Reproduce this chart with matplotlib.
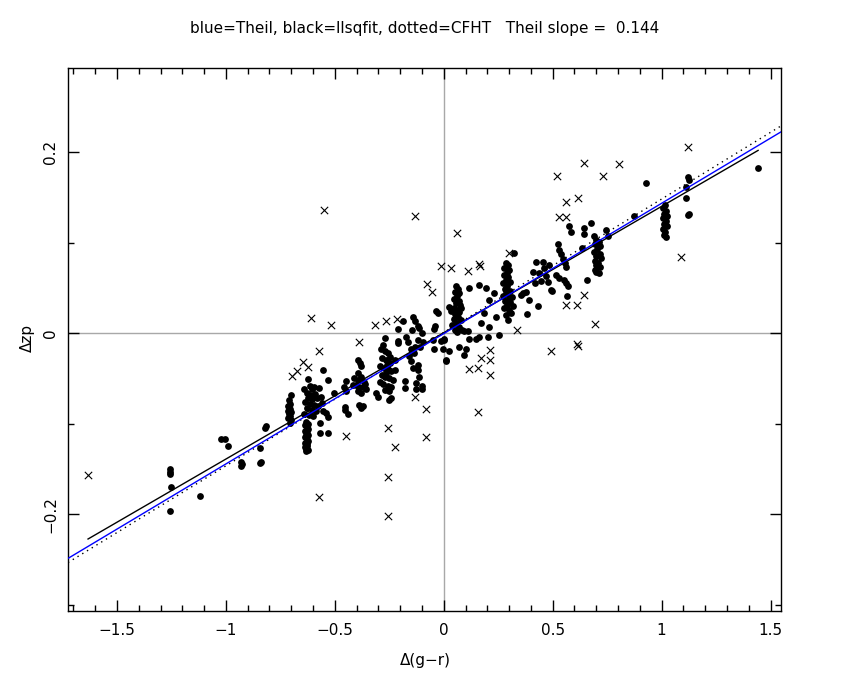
import numpy as np
import matplotlib
matplotlib.use('Agg')
import matplotlib.pyplot as plt
from matplotlib.ticker import MultipleLocator

# fitted lines: (slope, intercept)
THEIL = (0.1440, -0.0005)
LLSQ = (0.1396, 0.0005)
CFHT = (0.1474, 0.0008)
LLSQ_RANGE = (-1.633, 1.443)

XLIM = (-1.725, 1.548)
YLIM = (-0.307, 0.293)

# rejected points (crosses)
cross_x = [-1.633, -0.549, -0.131, -0.608, -0.517, -0.573, -0.388, -0.316, -0.264, -0.215,
           -0.075, -0.056, -0.011, 0.034, 0.060, 0.113, 0.162, 0.165, 0.301, 0.520,
           0.644, 0.731, 0.803, 0.563, 0.616, 0.529, 0.561, 1.119, 1.090, 0.644,
           0.561, 0.612, 0.694, 0.338, 0.612, 0.614, 0.493, 0.213, 0.170, 0.213,
           0.116, 0.158, 0.213, -0.131, -0.081, 0.158, -0.081, -0.695, -0.674, -0.645,
           -0.624, -0.451, -0.255, -0.222, -0.258, -0.258, -0.572]
cross_y = [-0.157, 0.136, 0.130, 0.017, 0.009, -0.020, -0.010, 0.009, 0.013, 0.016,
           0.054, 0.045, 0.074, 0.072, 0.111, 0.069, 0.076, 0.074, 0.089, 0.174,
           0.188, 0.174, 0.187, 0.145, 0.149, 0.128, 0.128, 0.206, 0.084, 0.042,
           0.031, 0.031, 0.010, 0.003, -0.012, -0.014, -0.020, -0.019, -0.028, -0.030,
           -0.040, -0.039, -0.046, -0.071, -0.084, -0.087, -0.115, -0.047, -0.042, -0.032,
           -0.037, -0.114, -0.105, -0.126, -0.159, -0.202, -0.181]

# accepted points (filled dots)
dot_x = [
    -1.257, -1.257, -1.255, -1.250, -1.258, -1.119, -1.021, -1.006, -0.991,
    -0.932, -0.926, -0.929, -0.845, -0.838, -0.842, -0.818, -0.821,
    # column near -0.71
    -0.700, -0.712, -0.705, -0.715, -0.708, -0.702, -0.712, -0.706, -0.714, -0.700, -0.708, -0.717,
    # column near -0.63
    -0.632, -0.625, -0.638, -0.630, -0.624, -0.636, -0.628, -0.633, -0.622, -0.638,
    -0.629, -0.624, -0.635, -0.630, -0.626, -0.637, -0.631, -0.625, -0.634,
    # group -0.64..-0.56
    -0.624, -0.616, -0.640, -0.605, -0.596, -0.630, -0.612, -0.590, -0.575, -0.622,
    -0.603, -0.584, -0.565, -0.636, -0.615, -0.596, -0.578, -0.560, -0.628, -0.607,
    -0.588, -0.640, -0.620, -0.600, -0.556,
    -0.555, -0.532, -0.570, -0.570, -0.532, -0.540, -0.532, -0.505,
    -0.451, -0.460, -0.448, -0.455, -0.440, -0.452,
    # group near -0.39
    -0.394, -0.386, -0.380, -0.394, -0.410, -0.395, -0.380, -0.365, -0.402, -0.388,
    -0.372, -0.356, -0.396, -0.380, -0.360, -0.415, -0.387, -0.379, -0.372,
    -0.310, -0.300, -0.250, -0.241,
    # group near -0.26
    -0.272, -0.279, -0.256, -0.211, -0.211, -0.290, -0.270, -0.248, -0.285, -0.265,
    -0.245, -0.225, -0.292, -0.275, -0.258, -0.240, -0.222, -0.285, -0.268, -0.250,
    -0.232, -0.295, -0.277, -0.258, -0.240, -0.272, -0.252, -0.265, -0.262, -0.211,
    # group -0.18..-0.1
    -0.180, -0.180, -0.127, -0.100, -0.100, -0.127, -0.115,
    -0.150, -0.135, -0.150, -0.120, -0.120, -0.140, -0.160, -0.165,
    -0.130, -0.115, -0.100, -0.145, -0.120, -0.095, -0.108,
    -0.043, -0.043, -0.050, -0.001, 0.010, 0.011,
    -0.142, -0.119, -0.188, -0.173, -0.134, -0.027, -0.042, -0.012, -0.035, 0.003,
    # column near 0.06
    0.057, 0.065, 0.050, 0.072, 0.060, 0.045, 0.068, 0.055, 0.075, 0.048,
    0.062, 0.070, 0.052, 0.065, 0.045, 0.078, 0.058, 0.040, 0.070, 0.050,
    0.062, 0.085, 0.095, 0.110, 0.035, 0.080,
    0.026, 0.118, 0.164, 0.194, 0.232, 0.209, 0.186, 0.171, 0.240, 0.209,
    0.255, 0.202, 0.164, 0.118, 0.103, 0.072, 0.026, 0.095, -0.005, 0.149,
    # column near 0.29
    0.285, 0.295, 0.278, 0.300, 0.288, 0.275, 0.297, 0.284, 0.305, 0.272,
    0.292, 0.280, 0.302, 0.287, 0.274, 0.298, 0.283, 0.306, 0.290, 0.278,
    0.300, 0.315, 0.320, 0.310, 0.286, 0.294,
    0.324, 0.355, 0.378, 0.393, 0.382, 0.431, 0.362,
    0.424, 0.454, 0.408, 0.439, 0.469, 0.477, 0.497, 0.420, 0.448,
    0.525, 0.531, 0.540, 0.548, 0.556, 0.561,
    0.516, 0.531, 0.561, 0.493, 0.566, 0.554, 0.569, 0.462, 0.485,
    0.577, 0.584, 0.645, 0.645, 0.676, 0.745, 0.752, 0.635, 0.658,
    # column near 0.7
    0.691, 0.700, 0.712, 0.694, 0.718, 0.705, 0.690, 0.715, 0.700, 0.722,
    0.693, 0.710, 0.700, 0.715, 0.696, 0.700, 0.712,
    # column near 1.0
    1.015, 1.008, 1.022, 1.012, 1.026, 1.005, 1.018, 1.010, 1.024, 1.006,
    1.016, 1.011, 1.020,
    1.119, 1.127, 1.112, 1.112, 1.127, 1.122, 0.928, 0.875, 1.443,
]
dot_y = [
    -0.150, -0.153, -0.156, -0.170, -0.196, -0.180, -0.117, -0.117, -0.125,
    -0.142, -0.145, -0.147, -0.127, -0.142, -0.144, -0.103, -0.105,
    -0.068, -0.074, -0.078, -0.081, -0.084, -0.087, -0.089, -0.092, -0.094, -0.096, -0.099, -0.086,
    -0.098, -0.100, -0.102, -0.104, -0.106, -0.108, -0.110, -0.112, -0.113, -0.115,
    -0.117, -0.119, -0.121, -0.123, -0.125, -0.126, -0.128, -0.129, -0.130,
    -0.051, -0.058, -0.062, -0.062, -0.060, -0.066, -0.068, -0.067, -0.061, -0.072,
    -0.073, -0.072, -0.070, -0.076, -0.078, -0.079, -0.080, -0.077, -0.083, -0.085,
    -0.086, -0.089, -0.090, -0.092, -0.086,
    -0.041, -0.052, -0.099, -0.110, -0.110, -0.088, -0.093, -0.066,
    -0.053, -0.059, -0.064, -0.082, -0.089, -0.085,
    -0.030, -0.033, -0.036, -0.044, -0.050, -0.052, -0.048, -0.054, -0.057, -0.059,
    -0.060, -0.062, -0.064, -0.066, -0.056, -0.057, -0.079, -0.083, -0.081,
    -0.066, -0.070, -0.074, -0.072,
    -0.005, -0.013, -0.022, -0.011, 0.005, -0.018, -0.020, -0.026, -0.028, -0.030,
    -0.033, -0.030, -0.036, -0.038, -0.040, -0.042, -0.041, -0.046, -0.048, -0.050,
    -0.052, -0.054, -0.056, -0.058, -0.060, -0.063, -0.064, -0.044, -0.035, -0.009,
    -0.053, -0.061, -0.055, -0.058, -0.062, -0.062, -0.048,
    -0.018, -0.022, -0.031, -0.035, -0.041, -0.038, -0.025, -0.010,
    0.013, 0.006, 0.000, 0.004, -0.008, -0.010, -0.015,
    0.005, -0.018, -0.008, -0.008, -0.030, -0.031,
    0.018, 0.008, 0.013, -0.004, -0.015, 0.022, 0.008, -0.009, 0.024, -0.007,
    0.052, 0.049, 0.046, 0.044, 0.041, 0.038, 0.036, 0.033, 0.031, 0.028,
    0.026, 0.023, 0.021, 0.018, 0.016, 0.014, 0.011, 0.009, 0.007, 0.004,
    0.001, 0.004, 0.002, 0.002, 0.024, 0.028,
    0.029, 0.050, 0.053, 0.050, 0.044, 0.037, 0.022, 0.011, 0.018, 0.007,
    -0.002, -0.004, -0.004, -0.007, -0.018, -0.015, -0.020, -0.024, -0.018, -0.006,
    0.078, 0.075, 0.072, 0.070, 0.067, 0.064, 0.062, 0.059, 0.057, 0.055,
    0.052, 0.049, 0.047, 0.044, 0.041, 0.039, 0.036, 0.034, 0.031, 0.028,
    0.026, 0.040, 0.030, 0.022, 0.020, 0.015,
    0.089, 0.042, 0.046, 0.037, 0.021, 0.030, 0.044,
    0.079, 0.079, 0.068, 0.066, 0.063, 0.056, 0.047, 0.055, 0.058,
    0.098, 0.092, 0.087, 0.082, 0.078, 0.073,
    0.064, 0.061, 0.055, 0.048, 0.041, 0.059, 0.052, 0.072, 0.075,
    0.118, 0.112, 0.116, 0.110, 0.122, 0.114, 0.107, 0.094, 0.059,
    0.107, 0.103, 0.101, 0.098, 0.096, 0.093, 0.090, 0.088, 0.085, 0.083,
    0.080, 0.078, 0.075, 0.073, 0.070, 0.068, 0.066,
    0.142, 0.138, 0.135, 0.132, 0.129, 0.127, 0.124, 0.121, 0.118, 0.115,
    0.112, 0.108, 0.106,
    0.173, 0.169, 0.162, 0.149, 0.132, 0.131, 0.166, 0.130, 0.183,
]

plt.rcParams['font.family'] = ['DejaVu Sans']

fig = plt.figure(figsize=(8.5, 6.8), dpi=100)
ax = fig.add_axes([0.080, 0.1015, 0.8388, 0.7985])

ax.axvline(0, color='#a8a8a8', lw=1, zorder=1)
ax.axhline(0, color='#a8a8a8', lw=1, zorder=1)

ax.scatter(dot_x, dot_y, s=24, marker='o', color='black', linewidths=0, zorder=3)
ax.scatter(cross_x, cross_y, s=28, marker='x', color='black', linewidths=0.8, zorder=3)

xx = np.array(XLIM)
ax.plot(xx, CFHT[0] * xx + CFHT[1], color='black', lw=1, ls=(0, (1, 3)), zorder=4)
xl = np.array(LLSQ_RANGE)
ax.plot(xl, LLSQ[0] * xl + LLSQ[1], color='black', lw=1, zorder=4)
ax.plot(xx, THEIL[0] * xx + THEIL[1], color='#0000ff', lw=1, zorder=5)

ax.set_xlim(*XLIM)
ax.set_ylim(*YLIM)

ax.xaxis.set_major_locator(MultipleLocator(0.5))
ax.xaxis.set_minor_locator(MultipleLocator(0.1))
ax.yaxis.set_major_locator(MultipleLocator(0.2))
ax.yaxis.set_minor_locator(MultipleLocator(0.1))
ax.tick_params(which='both', direction='in', top=True, right=True, width=1,
               labelsize=11, color='black')
ax.tick_params(which='major', length=8)
ax.tick_params(which='minor', length=4)
ax.tick_params(axis='x', pad=9)
ax.tick_params(axis='y', pad=7)
fmt = matplotlib.ticker.FuncFormatter(
    lambda v, p: ('%g' % round(v, 2)).replace('-', '\u2212'))
ax.xaxis.set_major_formatter(fmt)
ax.yaxis.set_major_formatter(fmt)
for lab in ax.get_yticklabels():
    lab.set_rotation(90)
    lab.set_verticalalignment('center')

for sp in ax.spines.values():
    sp.set_linewidth(1)

fig.text(0.5, 0.958, 'blue=Theil, black=llsqfit, dotted=CFHT   Theil slope =  0.144',
         ha='center', va='center', fontsize=11)
fig.text(0.5, 0.029, '\u0394(g\u2212r)', ha='center', va='center', fontsize=11)
fig.text(0.032, 0.503, '\u0394zp', ha='center', va='center', rotation=90, fontsize=11)

fig.savefig('out.png', dpi=100)
